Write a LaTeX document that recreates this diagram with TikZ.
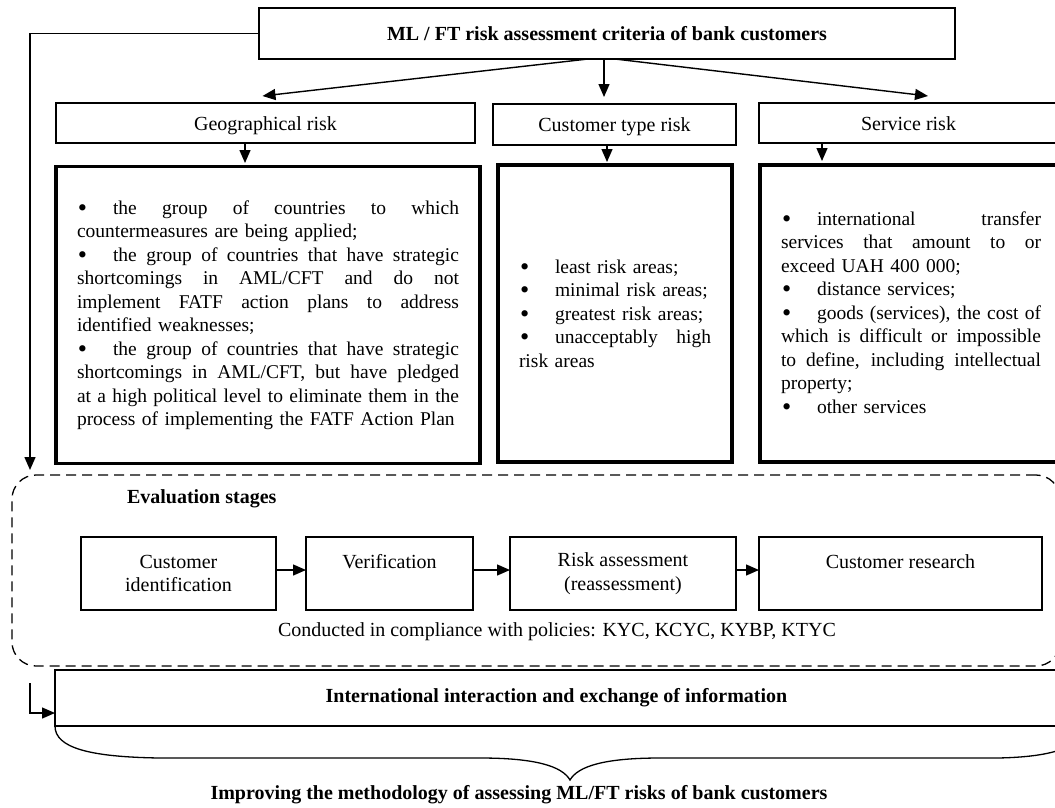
\documentclass[tikz,border=0pt]{standalone}
\usepackage{fontspec}
\setmainfont{Liberation Serif}
\usetikzlibrary{arrows.meta,calc}
\setlength{\parindent}{0pt}
\newcommand{\fs}{\fontsize{20}{23.5}\selectfont}
\newcommand{\fsb}{\fontsize{19.5}{23.5}\selectfont}
\newcommand{\jw}{382pt}
\newcommand{\jl}[1]{\leavevmode\hbox to \jw{\spaceskip=0.25em plus 1fil minus 0.05em\relax #1}}
\newcommand{\pl}[1]{\leavevmode\hbox{#1}}
\newcommand{\bul}{\hbox to 36pt{\hspace{1pt}\raisebox{-0.11em}{\scalebox{1.35}{\textbullet}}\hfil}}
\begin{document}
\begin{tikzpicture}[x=1pt,y=-1pt,
  every node/.style={inner sep=0pt,outer sep=0pt,font=\fs},
  thinbox/.style={draw,line width=1.2pt,align=center},
  thickbox/.style={draw,line width=3.5pt,inner xsep=21pt,align=left,minimum height=297pt,font=\fsb},
  arr/.style={line width=1.4pt,-{Triangle[length=13pt,width=11pt]}},
  boldtext/.style={font=\fs\bfseries}]
\useasboundingbox (0,0) rectangle (1055,807);

% top
\node[thinbox,boldtext,minimum width=696pt,minimum height=51pt] (top) at (607,33.5) {ML / FT risk assessment criteria of bank customers};

% headers
\node[thinbox,minimum width=419pt,minimum height=40pt,text height=16pt,text depth=2pt] (geoH) at (265.5,123) {Geographical risk};
\node[thinbox,minimum width=243pt,minimum height=41pt,text height=16pt,text depth=2pt] (custH) at (614.5,124.5) {Customer type risk};
\node[thinbox,minimum width=299pt,minimum height=40pt,text height=16pt,text depth=2pt] (servH) at (908.5,123) {Service risk};

% thick boxes
\node[thickbox,text width=382pt] (geoB) at (268,315) {\renewcommand{\jw}{382pt}%
\jl{\bul the group of countries to which}\\
\pl{countermeasures are being applied;}\\
\jl{\bul the group of countries that have strategic}\\
\jl{shortcomings in AML/CFT and do not}\\
\jl{implement FATF action plans to address}\\
\pl{identified weaknesses;}\\
\jl{\bul the group of countries that have strategic}\\
\jl{shortcomings in AML/CFT, but have pledged}\\
\jl{at a high political level to eliminate them in the}\\
\pl{process of implementing the FATF Action Plan}};

\node[thickbox,text width=192pt] (custB) at (615,313.5) {\renewcommand{\jw}{192pt}%
\pl{\bul least risk areas;}\\
\pl{\bul minimal risk areas;}\\
\pl{\bul greatest risk areas;}\\
\jl{\bul unacceptably high}\\
\pl{risk areas}};

\node[thickbox,text width=260pt] (servB) at (911,313.5) {\renewcommand{\jw}{260pt}%
\jl{\bul international transfer}\\
\jl{services that amount to or}\\
\pl{exceed UAH 400 000;}\\
\pl{\bul distance services;}\\
\jl{\bul goods (services), the cost of}\\
\jl{which is difficult or impossible}\\
\jl{to define, including intellectual}\\
\pl{property;}\\
\pl{\bul other services}};

% evaluation area
\node[draw,dash pattern=on 10pt off 6pt,line width=1.3pt,rounded corners=24pt,
      minimum width=1048pt,minimum height=191pt] (evalbox) at (536,570.5) {};
\node[boldtext,anchor=west] (evaltitle) at (127,499) {Evaluation stages};

\node[thinbox,minimum width=195pt,minimum height=73pt] (s1) at (178.5,573.5) {Customer\\identification};
\node[thinbox,minimum width=167pt,minimum height=73pt] (s2) at (389.5,573.5) {Verification\\\mbox{}};
\node[thinbox,minimum width=226pt,minimum height=73pt] (s3) at (623,573.5) {Risk assessment\\(reassessment)};
\node[thinbox,minimum width=283pt,minimum height=73pt] (s4) at (900.5,573.5) {Customer research\\\mbox{}};

\node (policy) at (557,632) {Conducted in compliance with policies: KYC, KCYC, KYBP, KTYC};

% international box
\node[thinbox,boldtext,minimum width=1003pt,minimum height=56pt] (intl) at (556.5,698) {International interaction and exchange of information};

% brace
\coordinate (braceTip) at (570,780);
\coordinate (braceR) at (1083,726);
\draw[line width=1.3pt] (intl.south west) .. controls +(0,22) and (90,757) .. (160,758)
  -- (480,758) .. controls (535,758) and (562,766) .. (braceTip)
  .. controls (578,766) and (605,758) .. (660,758)
  -- (980,758) .. controls (1050,759) and (1083,748) .. (braceR);

\node[boldtext] (improve) at (519,795) {Improving the methodology of assessing ML/FT risks of bank customers};

% arrows
\coordinate (leftdown) at (30,470);
\draw[arr] (top.west) -| (leftdown);
\coordinate (kstart) at (30,683);
\draw[arr] (kstart) |- ($(intl.south west)+(0,-13)$);

\draw[arr] ($(top.south)+(-19,0)$) -- ($(geoH.north)+(-3,-7)$);
\draw[arr] ($(top.south)+(-3,0)$) -- ($(custH.north)+(-10.5,-7)$);
\draw[arr] ($(top.south)+(8,0)$) -- ($(servH.north)+(19.5,-7)$);

\draw[arr] ($(geoH.south)+(-20.5,0)$) -- ($(geoB.north)+(-23,-3.5)$);
\draw[arr] ($(custH.south)+(-7.5,0)$) -- ($(custB.north)+(-8,-3)$);
\draw[arr] ($(servH.south)+(-86.5,0)$) -- ($(servB.north)+(-89,-4)$);

\draw[arr] ($(s1.east)+(0,-3.5)$) -- ($(s2.west)+(0,-3.5)$);
\draw[arr] ($(s2.east)+(0,-3.5)$) -- ($(s3.west)+(0,-3.5)$);
\draw[arr] ($(s3.east)+(0,-3.5)$) -- ($(s4.west)+(0,-3.5)$);
\end{tikzpicture}
\end{document}
